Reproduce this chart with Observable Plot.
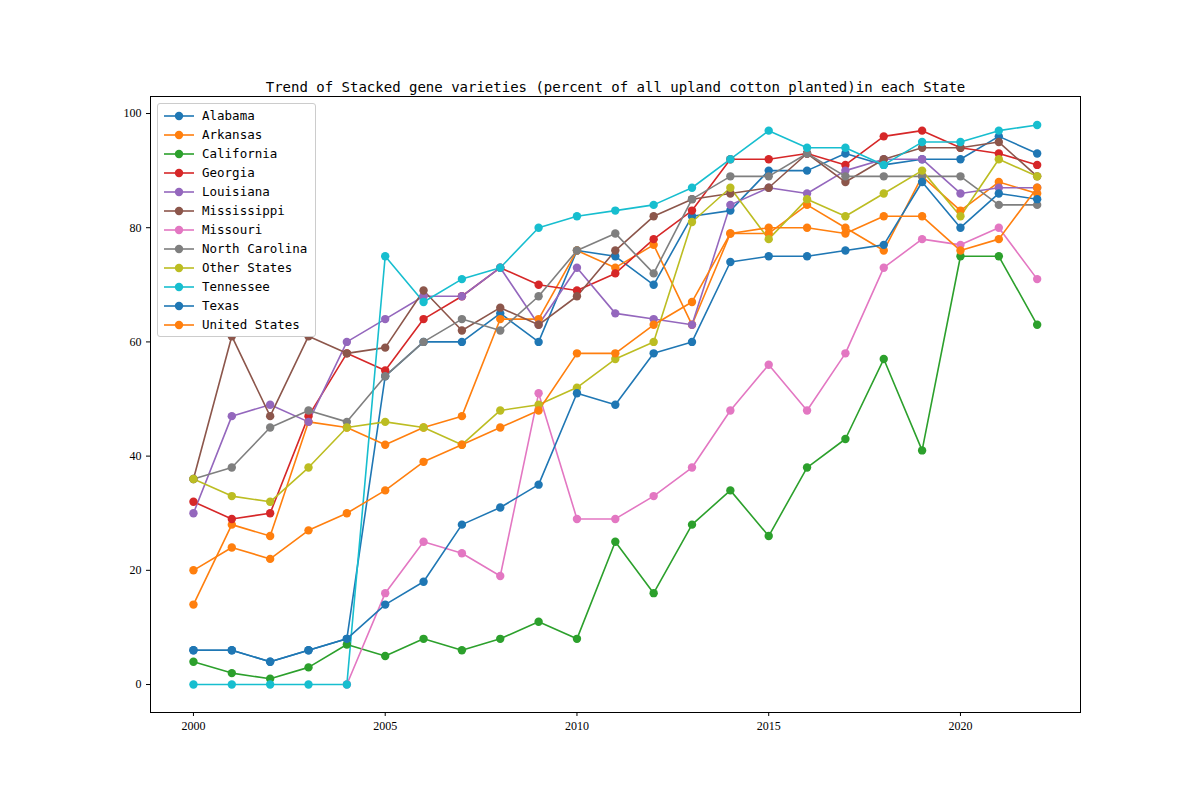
<!DOCTYPE html>
<html>
<head>
<meta charset="utf-8">
<script src="https://cdn.jsdelivr.net/npm/d3@7"></script>
<script src="https://cdn.jsdelivr.net/npm/@observablehq/plot@0.6"></script>
<style>
  body { margin: 0; background: #fff; }
  #wrap { position: relative; width: 1200px; height: 800px; }
  #legend { position: absolute; left: 157px; top: 103px; background: #fff; border: 1px solid #ccc; border-radius: 3px;
    padding: 2px 8px 2px 6px; font: 12.5px "DejaVu Sans Mono", monospace; color: #000; }
  #legend div { height: 19px; display: flex; align-items: center; }
  #legend svg { margin-right: 8px; }
</style>
</head>
<body>
<div id="wrap"><div id="chart"></div><div id="legend"></div></div>
<script>
const years = d3.range(2000, 2023);
const states = ['Alabama', 'Arkansas', 'California', 'Georgia', 'Louisiana', 'Mississippi', 'Missouri',
  'North Carolina', 'Other States', 'Tennessee', 'Texas', 'United States'];
const colors = ['#1f77b4', '#ff7f0e', '#2ca02c', '#d62728', '#9467bd', '#8c564b', '#e377c2',
  '#7f7f7f', '#bcbd22', '#17becf', '#1f77b4', '#ff7f0e'];

// percent of upland cotton planted, 2000..2022 (null = not reported)
const alabama      = [6, 6, 4, 6, 8, 54, 60, 60, 65, 60, 76, 75, 70, 82, 83, 90, 90, 93, 91, 92, 92, 96, 93];
const arkansas     = [14, 28, 26, 46, 45, 42, 45, 47, 64, 64, 76, 73, 77, 63, 79, 79, 84, 80, 76, 89, 83, 88, 86];
const california   = [4, 2, 1, 3, 7, 5, 8, 6, 8, 11, 8, 25, 16, 28, 34, 26, 38, 43, 57, 41, 75, 75, 63];
const georgia      = [32, 29, 30, 47, 58, 55, 64, 68, 73, 70, 69, 72, 78, 83, 92, 92, 93, 91, 96, 97, 94, 93, 91];
const louisiana    = [30, 47, 49, 46, 60, 64, 68, 68, 73, 63, 73, 65, 64, 63, 84, 87, 86, 90, 92, 92, 86, 87, 87];
const mississippi  = [36, 61, 47, 61, 58, 59, 69, 62, 66, 63, 68, 76, 82, 85, 86, 87, 93, 88, 92, 94, 94, 95, 89];
const missouri     = [null, null, null, null, 0, 16, 25, 23, 19, 51, 29, 29, 33, 38, 48, 56, 48, 58, 73, 78, 77, 80, 71];
const northCarolina = [36, 38, 45, 48, 46, 54, 60, 64, 62, 68, 76, 79, 72, 85, 89, 89, 93, 89, 89, 89, 89, 84, 84];
const otherStates  = [36, 33, 32, 38, 45, 46, 45, 42, 48, 49, 52, 57, 60, 81, 87, 78, 85, 82, 86, 90, 82, 92, 89];
const tennessee    = [0, 0, 0, 0, 0, 75, 67, 71, 73, 80, 82, 83, 84, 87, 92, 97, 94, 94, 91, 95, 95, 97, 98];
const texas        = [6, 6, 4, 6, 8, 14, 18, 28, 31, 35, 51, 49, 58, 60, 74, 75, 75, 76, 77, 88, 80, 86, 85];
const unitedStates = [20, 24, 22, 27, 30, 34, 39, 42, 45, 48, 58, 58, 63, 67, 79, 80, 80, 79, 82, 82, 76, 78, 87];

const series = [alabama, arkansas, california, georgia, louisiana, mississippi, missouri,
  northCarolina, otherStates, tennessee, texas, unitedStates];

const rows = [];
series.forEach((vals, i) => vals.forEach((v, j) => {
  if (v != null) rows.push({ state: states[i], year: years[j], value: v });
}));

const chart = Plot.plot({
  width: 1200, height: 800,
  marginLeft: 150, marginRight: 120, marginTop: 96, marginBottom: 88,
  style: { fontFamily: "'Liberation Serif', serif", fontSize: '12px', color: '#000', background: '#fff' },
  x: { domain: [1998.88, 2023.13], ticks: [2000, 2005, 2010, 2015, 2020], tickFormat: d => String(d), label: null, tickSize: 4 },
  y: { domain: [-4.9, 102.98], ticks: [0, 20, 40, 60, 80, 100], label: null, tickSize: 4 },
  color: { domain: states, range: colors },
  marks: [
    Plot.frame({ stroke: '#000' }),
    ...states.map(s => Plot.line(rows.filter(d => d.state === s), { x: 'year', y: 'value', stroke: 'state', strokeWidth: 1.6 })),
    ...states.map(s => Plot.dot(rows.filter(d => d.state === s), { x: 'year', y: 'value', fill: 'state', r: 4.2 })),
    Plot.text(['Trend of Stacked gene varieties (percent of all upland cotton planted)in each State'], {
      frameAnchor: 'top', dy: -14, fontSize: 14, fontFamily: "'DejaVu Sans Mono', monospace", fill: '#000'
    })
  ]
});
document.getElementById('chart').appendChild(chart);

const legend = document.getElementById('legend');
states.forEach((s, i) => {
  const row = document.createElement('div');
  row.innerHTML = `<svg width="30" height="10"><line x1="0" y1="5" x2="30" y2="5" stroke="${colors[i]}" stroke-width="1.6"/>` +
    `<circle cx="15" cy="5" r="4.2" fill="${colors[i]}"/></svg>${s}`;
  legend.appendChild(row);
});
</script>
</body>
</html>
